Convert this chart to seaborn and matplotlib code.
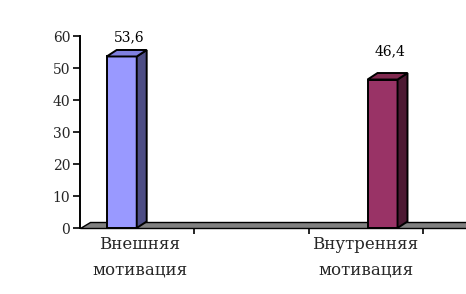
import matplotlib
matplotlib.use("Agg")
import matplotlib.pyplot as plt
from matplotlib.patches import Polygon
import seaborn as sns
import pandas as pd

categories = ["Внешняя\nмотивация", "Внутренняя\nмотивация"]
values = [53.6, 46.4]
value_labels = ["53,6", "46,4"]
yticks = [0, 10, 20, 30, 40, 50, 60]
front_colors = ["#9999FF", "#993366"]
side_colors = ["#4D4D85", "#4D1933"]
top_colors = ["#8080E0", "#80294F"]

sns.set_style("white")
plt.rcParams["font.family"] = ["DejaVu Serif", "Liberation Serif"]

fig = plt.figure(figsize=(4.66, 2.94), dpi=100)
ax = fig.add_axes([80 / 466, (294 - 228) / 294, 386 / 466, 192 / 294])

df = pd.DataFrame({"cat": categories, "val": values})
sns.barplot(data=df, x="cat", y="val", hue="cat", palette=front_colors,
            saturation=1, width=0.115, edgecolor="black", linewidth=1.4,
            legend=False, ax=ax, zorder=3)

xmin, xmax = -0.16, 1.32
ax.set_xlim(xmin, xmax)
ax.set_ylim(0, 60)

# 3D depth offsets (data units)
ddx = 10 / 262
ddy = 6.5 / 3.2

# floor
floor = Polygon([(xmin, 0), (xmax + 0.1, 0), (xmax + 0.1, ddy), (xmin + ddx, ddy)],
                closed=True, facecolor="#808080", edgecolor="black", lw=1.0,
                zorder=1, clip_on=False)
ax.add_patch(floor)

for i, p in enumerate(ax.patches[:len(values)]):
    x0 = p.get_x()
    w = p.get_width()
    h = p.get_height()
    x1 = x0 + w
    side = Polygon([(x1, 0), (x1 + ddx, ddy), (x1 + ddx, h + ddy), (x1, h)],
                   closed=True, facecolor=side_colors[i], edgecolor="black",
                   lw=1.4, zorder=3, clip_on=False)
    top = Polygon([(x0, h), (x0 + ddx, h + ddy), (x1 + ddx, h + ddy), (x1, h)],
                  closed=True, facecolor=top_colors[i], edgecolor="black",
                  lw=1.4, zorder=3, clip_on=False)
    ax.add_patch(side)
    ax.add_patch(top)
    ty = min(h + 8.8, 59.6)
    ax.text(i + 0.03, ty, value_labels[i], ha="center", va="center",
            fontsize=10, color="black", clip_on=False)

for s in ["top", "right"]:
    ax.spines[s].set_visible(False)
ax.spines["left"].set_color("black")
ax.spines["left"].set_linewidth(1.4)
ax.spines["bottom"].set_visible(False)

ax.set_yticks(yticks)
ax.set_yticklabels([str(t) for t in yticks], fontsize=10)
ax.tick_params(axis="y", direction="out", length=5, width=1.2, color="black",
               left=True, pad=2)

label_pos = [0.069, 0.935]
ax.set_xticks(label_pos)
ax.set_xticklabels(categories, fontsize=12, linespacing=1.6)
ax.tick_params(axis="x", length=0, pad=6)
ax.set_xticks([0.279, 0.718, 1.157], minor=True)
ax.tick_params(axis="x", which="minor", direction="out", length=4, width=1.2,
               color="black", bottom=True)
ax.set_xlabel("")
ax.set_ylabel("")

fig.savefig("out.png", dpi=100)
